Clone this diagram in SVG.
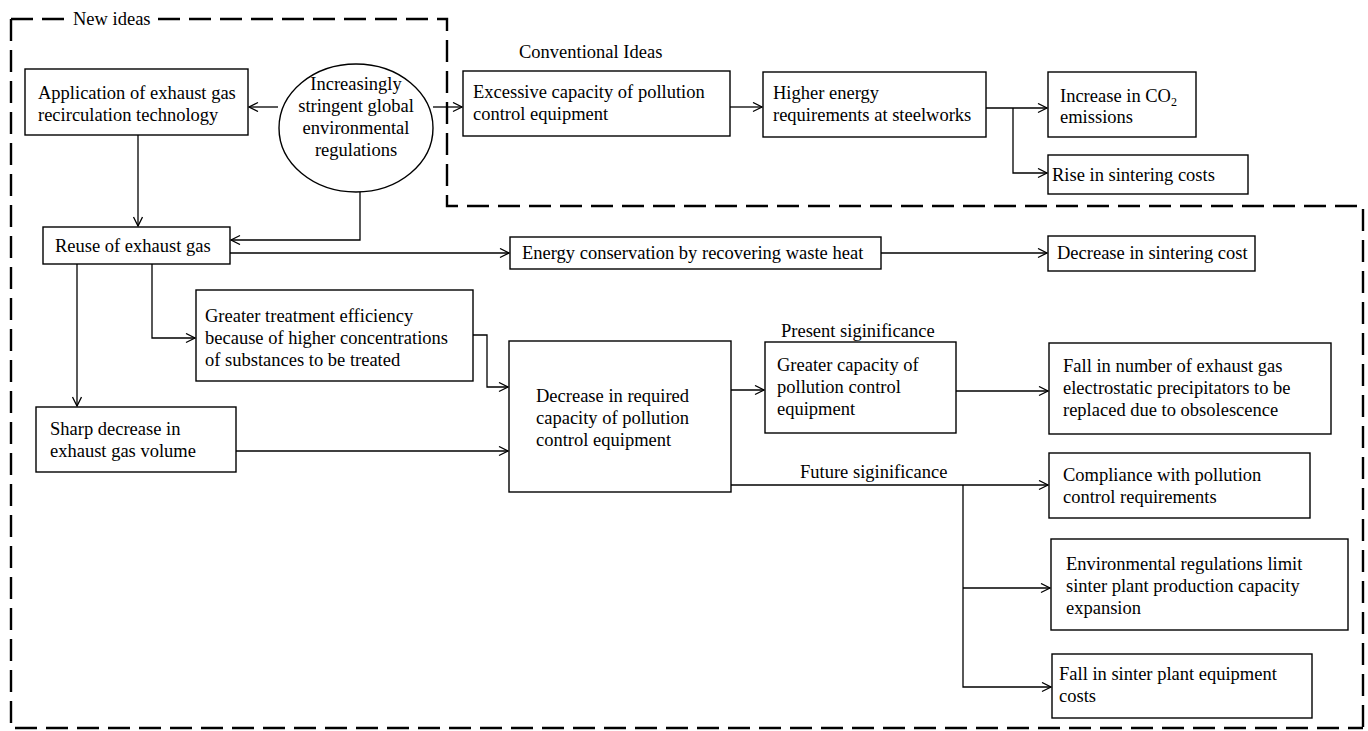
<svg xmlns="http://www.w3.org/2000/svg" width="1368" height="731" viewBox="0 0 1368 731">
<style>
  .box { fill: #fff; stroke: #000; stroke-width: 1.4; }
  .t { font-family: "Liberation Serif", "Times New Roman", serif; font-size: 18.5px; fill: #000; }
  .ct { text-anchor: middle; }
  .con { fill: none; stroke: #000; stroke-width: 1.3; marker-end: url(#arr); }
  .dash { fill: none; stroke: #000; stroke-width: 2.4; stroke-dasharray: 22 9; }
</style>
<defs>
  <marker id="arr" markerUnits="userSpaceOnUse" markerWidth="12" markerHeight="12" refX="10" refY="5" orient="auto">
    <path d="M1,0.5 L10,5 L1,9.5" fill="none" stroke="#000" stroke-width="1.3"/>
  </marker>
</defs>
<rect width="1368" height="731" fill="#fff"/>

<g id="borders">
  <path class="dash" d="M11,19 L66,19"/>
  <path class="dash" d="M158,19 L447,19 L447,206 L1363,206 L1363,731"/>
  <path class="dash" d="M11,19 L11,728 L1363,728"/>
  <text class="t" x="73" y="25" font-size="17">New ideas</text>
  <text class="t" x="519" y="58">Conventional Ideas</text>
  <text class="t" x="781" y="337">Present siginificance</text>
  <text class="t" x="800" y="478">Future siginificance</text>
</g>

<g id="connectors">
  <path class="con" d="M278,107 L249,107"/>
  <path class="con" d="M433,107 L462,107"/>
  <path class="con" d="M730,107 L762,107"/>
  <path class="con" d="M986,108 L1047,108"/>
  <path class="con" d="M1013,108 L1013,173 L1047,173"/>
  <path class="con" d="M138,135 L138,226"/>
  <path class="con" d="M360,192 L360,240 L231,240"/>
  <path class="con" d="M230,253 L509,253"/>
  <path class="con" d="M881,253 L1047,253"/>
  <path class="con" d="M152,264 L152,338 L195,338"/>
  <path class="con" d="M77,264 L77,406"/>
  <path class="con" d="M473,335 L487,335 L487,387 L508,387"/>
  <path class="con" d="M236,451 L508,451"/>
  <path class="con" d="M731,390 L764,390"/>
  <path class="con" d="M956,391 L1048,391"/>
  <path class="con" d="M731,485 L1048,485"/>
  <path class="con" d="M963,485 L963,687 L1051,687"/>
  <path class="con" d="M963,588 L1050,588"/>
</g>

<g id="n-application">
  <rect class="box" x="25" y="69" width="223" height="66"/>
  <text class="t" x="38" y="99">Application of exhaust gas</text>
  <text class="t" x="38" y="121">recirculation technology</text>
</g>

<g id="n-regulations">
  <ellipse class="box" cx="356" cy="128" rx="77" ry="64"/>
  <text class="t ct" x="356" y="90">Increasingly</text>
  <text class="t ct" x="356" y="112">stringent global</text>
  <text class="t ct" x="356" y="134">environmental</text>
  <text class="t ct" x="356" y="156">regulations</text>
</g>

<g id="n-excessive">
  <rect class="box" x="463" y="71" width="267" height="65"/>
  <text class="t" x="473" y="98">Excessive capacity of pollution</text>
  <text class="t" x="473" y="120">control equipment</text>
</g>

<g id="n-higher">
  <rect class="box" x="763" y="72" width="223" height="65"/>
  <text class="t" x="773" y="99">Higher energy</text>
  <text class="t" x="773" y="121">requirements at steelworks</text>
</g>

<g id="n-co2">
  <rect class="box" x="1048" y="72" width="148" height="65"/>
  <text class="t" x="1060" y="102">Increase in CO<tspan font-size="12" dy="4">2</tspan></text>
  <text class="t" x="1060" y="123">emissions</text>
</g>

<g id="n-rise">
  <rect class="box" x="1048" y="155" width="200" height="39"/>
  <text class="t" x="1052" y="181">Rise in sintering costs</text>
</g>

<g id="n-reuse">
  <rect class="box" x="43" y="227" width="187" height="37"/>
  <text class="t" x="55" y="252">Reuse of exhaust gas</text>
</g>

<g id="n-energy">
  <rect class="box" x="510" y="237" width="371" height="32"/>
  <text class="t" x="522" y="259">Energy conservation by recovering waste heat</text>
</g>

<g id="n-decrease-cost">
  <rect class="box" x="1048" y="236" width="207" height="35"/>
  <text class="t" x="1057" y="259">Decrease in sintering cost</text>
</g>

<g id="n-treatment">
  <rect class="box" x="196" y="290" width="277" height="91"/>
  <text class="t" x="205" y="322">Greater treatment efficiency</text>
  <text class="t" x="205" y="344">because of higher concentrations</text>
  <text class="t" x="205" y="366">of substances to be treated</text>
</g>

<g id="n-sharp">
  <rect class="box" x="36" y="407" width="200" height="65"/>
  <text class="t" x="50" y="435">Sharp decrease in</text>
  <text class="t" x="50" y="457">exhaust gas volume</text>
</g>

<g id="n-decrease-capacity">
  <rect class="box" x="509" y="341" width="222" height="151"/>
  <text class="t" x="536" y="402">Decrease in required</text>
  <text class="t" x="536" y="424">capacity of pollution</text>
  <text class="t" x="536" y="446">control equipment</text>
</g>

<g id="n-greater-capacity">
  <rect class="box" x="765" y="342" width="191" height="91"/>
  <text class="t" x="777" y="371">Greater capacity of</text>
  <text class="t" x="777" y="393">pollution control</text>
  <text class="t" x="777" y="415">equipment</text>
</g>

<g id="n-fall-number">
  <rect class="box" x="1049" y="343" width="282" height="91"/>
  <text class="t" x="1063" y="372">Fall in number of exhaust gas</text>
  <text class="t" x="1063" y="394">electrostatic precipitators to be</text>
  <text class="t" x="1063" y="416">replaced due to obsolescence</text>
</g>

<g id="n-compliance">
  <rect class="box" x="1049" y="453" width="261" height="65"/>
  <text class="t" x="1063" y="481">Compliance with pollution</text>
  <text class="t" x="1063" y="503">control requirements</text>
</g>

<g id="n-environmental">
  <rect class="box" x="1051" y="539" width="297" height="91"/>
  <text class="t" x="1066" y="570">Environmental regulations limit</text>
  <text class="t" x="1066" y="592">sinter plant production capacity</text>
  <text class="t" x="1066" y="614">expansion</text>
</g>

<g id="n-fall-sinter">
  <rect class="box" x="1052" y="654" width="260" height="64"/>
  <text class="t" x="1059" y="680">Fall in sinter plant equipment</text>
  <text class="t" x="1059" y="702">costs</text>
</g>
</svg>
